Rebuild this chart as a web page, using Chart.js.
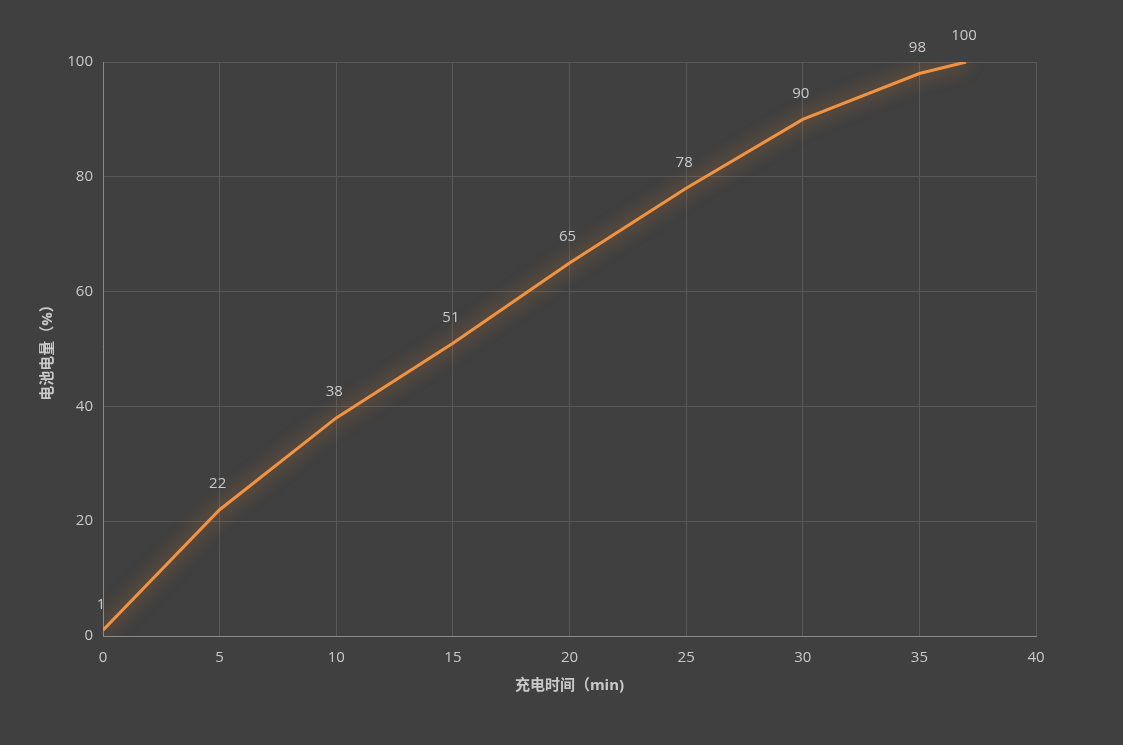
<!DOCTYPE html>
<html>
<head>
<meta charset="utf-8">
<script src="https://cdn.jsdelivr.net/npm/chart.js@4/dist/chart.umd.min.js"></script>
<style>
  html, body { margin: 0; padding: 0; background: #404040; overflow: hidden; }
</style>
</head>
<body>
<canvas id="chargeChart" width="1123" height="745"></canvas>
<script>
// 充电时间 (min) vs 电池电量 (%)
const chargeTimes = [0, 5, 10, 15, 20, 25, 30, 35, 37];
const batteryLevels = [1, 22, 38, 51, 65, 78, 90, 98, 100];

const xTitle = '充电时间（min)';
const yTitle = '电池电量（%）';

const fontFamily = '"Open Sans", "Noto Sans CJK SC", sans-serif';
const textColor = '#c9c9c9';

// soft orange glow under the line
const glowPlugin = {
  id: 'glow',
  beforeDatasetDraw(chart) {
    const ctx = chart.ctx;
    ctx.save();
    ctx.shadowColor = 'rgba(240, 140, 50, 0.8)';
    ctx.shadowBlur = 18;
  },
  afterDatasetDraw(chart) {
    chart.ctx.restore();
  }
};

// value labels above each point
const pointLabels = {
  id: 'pointLabels',
  afterDatasetsDraw(chart) {
    const ctx = chart.ctx;
    const meta = chart.getDatasetMeta(0);
    ctx.save();
    ctx.font = '15px ' + fontFamily;
    ctx.fillStyle = textColor;
    ctx.textAlign = 'center';
    ctx.textBaseline = 'middle';
    meta.data.forEach((pt, i) => {
      ctx.fillText(String(batteryLevels[i]), pt.x - 2, pt.y - 26);
    });
    ctx.restore();
  }
};

new Chart(document.getElementById('chargeChart'), {
  type: 'line',
  data: {
    datasets: [{
      data: chargeTimes.map((t, i) => ({ x: t, y: batteryLevels[i] })),
      borderColor: '#f39340',
      borderWidth: 3,
      pointRadius: 0,
      tension: 0,
      fill: false
    }]
  },
  plugins: [glowPlugin, pointLabels],
  options: {
    responsive: false,
    animation: false,
    devicePixelRatio: 1,
    layout: { padding: { left: 35, top: 62, right: 87, bottom: 46 } },
    plugins: {
      legend: { display: false },
      tooltip: { enabled: false }
    },
    scales: {
      x: {
        type: 'linear',
        min: 0,
        max: 40,
        ticks: { stepSize: 5, color: textColor, padding: 13, font: { size: 15, family: fontFamily } },
        grid: { color: '#595959', drawTicks: false },
        border: { color: '#8a8a8a', width: 1 },
        title: { display: true, text: xTitle, color: textColor, padding: 4,
                 font: { size: 15, weight: 'bold', family: fontFamily } },
        afterFit(scale) { scale.height = 63; }
      },
      y: {
        min: 0,
        max: 100,
        ticks: { stepSize: 20, color: textColor, padding: 10, font: { size: 15, family: fontFamily } },
        grid: { color: '#595959', drawTicks: false },
        border: { color: '#8a8a8a', width: 1 },
        title: { display: true, text: yTitle, color: textColor, padding: 4,
                 font: { size: 15, weight: 'bold', family: fontFamily } },
        afterFit(scale) { scale.width = 68; }
      }
    }
  }
});
</script>
</body>
</html>
